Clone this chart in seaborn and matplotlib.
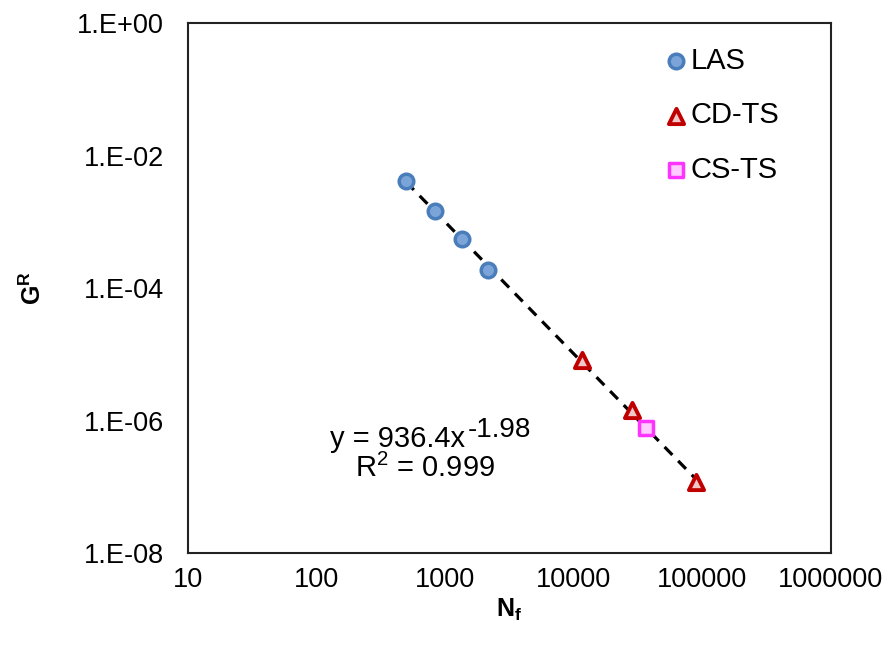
import numpy as np
import pandas as pd
import matplotlib
matplotlib.use("Agg")
import matplotlib.pyplot as plt
import seaborn as sns

# data
las_n = [500, 840, 1360, 2170]
las_g = [4.15e-3, 1.46e-3, 5.5e-4, 1.87e-4]
cdts_n = [11700, 28600, 89900]
cdts_g = [8.2e-6, 1.44e-6, 1.18e-7]
csts_n = [36700]
csts_g = [7.7e-7]

x_ticks = [10, 100, 1000, 10000, 100000, 1000000]
x_ticklabels = ["10", "100", "1000", "10000", "100000", "1000000"]
y_ticks = [1e0, 1e-2, 1e-4, 1e-6, 1e-8]
y_ticklabels = ["1.E+00", "1.E-02", "1.E-04", "1.E-06", "1.E-08"]

sns.set_theme(style="white")
plt.rcParams["font.family"] = ["Liberation Sans", "DejaVu Sans"]
plt.rcParams["mathtext.fontset"] = "custom"
plt.rcParams["mathtext.rm"] = "Liberation Sans"
plt.rcParams["mathtext.it"] = "Liberation Sans"
plt.rcParams["mathtext.bf"] = "Liberation Sans:bold"
plt.rcParams["text.color"] = "black"
plt.rcParams["axes.labelcolor"] = "black"

fig = plt.figure(figsize=(8.96, 6.51), dpi=100)
ax = fig.add_axes([0.2093, 0.1505, 0.7177, 0.8137])

# power trendline through all points
all_n = np.array(las_n + cdts_n + csts_n, dtype=float)
all_g = np.array(las_g + cdts_g + csts_g, dtype=float)
b, a = np.polyfit(np.log10(all_n), np.log10(all_g), 1)
fit = pd.DataFrame({"n": [all_n.min(), all_n.max()]})
fit["g"] = 10 ** a * fit["n"] ** b
sns.lineplot(data=fit, x="n", y="g", ax=ax, color="black", lw=2.3,
             linestyle=(0, (3.5, 2.6)), zorder=1)

sns.scatterplot(x=las_n, y=las_g, ax=ax, marker="o", s=110,
                color="#7BA4D8", edgecolor="#4A7EBB", linewidth=2.5,
                label="LAS", zorder=3)
sns.scatterplot(x=cdts_n, y=cdts_g, ax=ax, marker="^", s=120,
                color="#F0C8C8", edgecolor="#C00000", linewidth=2.8,
                label="CD-TS", zorder=3)
sns.scatterplot(x=csts_n, y=csts_g, ax=ax, marker="s", s=90,
                color="#FFCCFF", edgecolor="#FF33FF", linewidth=2.5,
                label="CS-TS", zorder=4)

ax.set_xscale("log")
ax.set_yscale("log")
ax.set_xlim(10, 1000000)
ax.set_ylim(1e-8, 1)
ax.set_xticks(x_ticks)
ax.set_xticklabels(x_ticklabels)
ax.set_yticks(y_ticks)
ax.set_yticklabels(y_ticklabels)
ax.minorticks_off()
ax.tick_params(axis="both", direction="in", length=7, width=1,
               color="#888888", labelsize=19.5, labelcolor="black")
ax.tick_params(axis="x", pad=10)
ax.tick_params(axis="y", pad=17)
for sp in ax.spines.values():
    sp.set_color("#222222")
    sp.set_linewidth(1.5)

ax.set_xlabel(r"$\mathbf{N_f}$", fontsize=18, labelpad=3)
ax.set_ylabel(r"$\mathbf{G^R}$", fontsize=18, labelpad=22)

# trendline equation, superscript drawn as its own text
eq = ax.text(0.2216, 0.200, "y = 936.4x", transform=ax.transAxes,
             ha="left", va="baseline", fontsize=21)
ax.annotate("-1.98", xy=(1, 0), xycoords=eq, xytext=(3, 16),
            textcoords="offset pixels", ha="left", va="baseline",
            fontsize=20)
ax.text(0.2605, 0.1435, "R$^{2}$ = 0.999", transform=ax.transAxes,
        ha="left", va="baseline", fontsize=21)

ax.legend(loc="upper left", frameon=False, fontsize=21,
          handletextpad=0.05, labelspacing=0.9, borderaxespad=0,
          borderpad=0, handlelength=0.9, bbox_to_anchor=(0.7386, 0.955))

fig.savefig("out.png", dpi=100)
